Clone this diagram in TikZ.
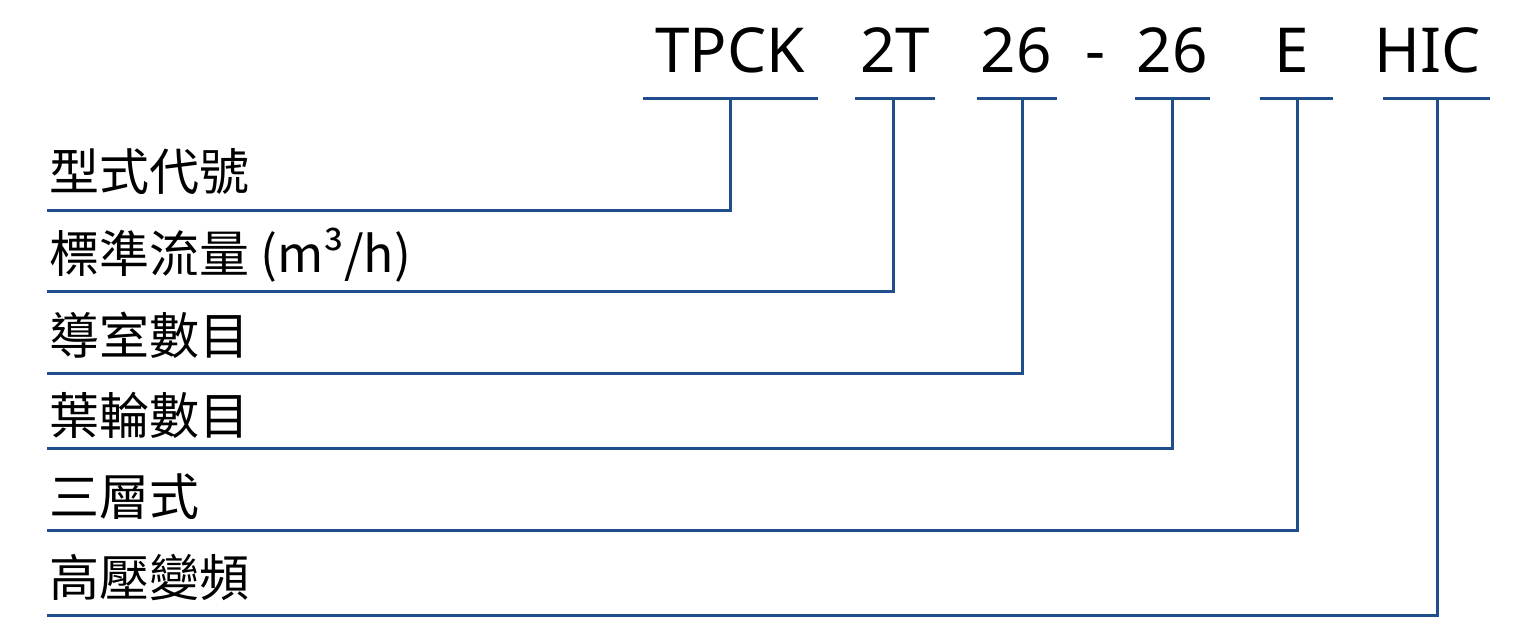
\documentclass[tikz,border=0pt]{standalone}
\usepackage{fontspec}
\setmainfont{Noto Sans}
\newfontfamily\cjk{Noto Sans CJK TC}
\definecolor{lineblue}{HTML}{1F4E8C}
\begin{document}
\begin{tikzpicture}[x=1pt,y=-1pt,
  code/.style={inner sep=0pt,anchor=base,font=\fontsize{62}{62}\selectfont},
  lab/.style={inner sep=0pt,anchor=base west,font=\cjk\fontsize{50}{50}\selectfont},
  ln/.style={lineblue,line width=3pt}]
\useasboundingbox (0,0) rectangle (1536,638);
\node[code] (t1) at (730,72) {TPCK};
\node[code] (t2) at (895,72) {2T};
\node[code] (t3) at (1016,72) {26};
\node[code] (dash) at (1095,72) {-};
\node[code] (t4) at (1172,72) {26};
\node[code] (t5) at (1292,72) {E};
\node[code] (t6) at (1428,72) {HIC};
\draw[ln] (643,98) -- (818,98);
\draw[ln] (855,98) -- (935,98);
\draw[ln] (977,98) -- (1057,98);
\draw[ln] (1135,98) -- (1210,98);
\draw[ln] (1260,98) -- (1333,98);
\draw[ln] (1383,98) -- (1490,98);
\node[lab] (l1) at (49,190) {型式代號};
\node[lab] (l2) at (49,272) {標準流量 (m³/h)};
\node[lab] (l3) at (49,354) {導室數目};
\node[lab] (l4) at (49,434) {葉輪數目};
\node[lab] (l5) at (49,515) {三層式};
\node[lab] (l6) at (49,596) {高壓變頻};
\draw[ln] (730,98) |- (47,210);
\draw[ln] (893,98) |- (47,291);
\draw[ln] (1022,98) |- (47,373);
\draw[ln] (1172,98) |- (47,448);
\draw[ln] (1297,98) |- (47,530);
\draw[ln] (1437,98) |- (47,615);
\end{tikzpicture}
\end{document}
